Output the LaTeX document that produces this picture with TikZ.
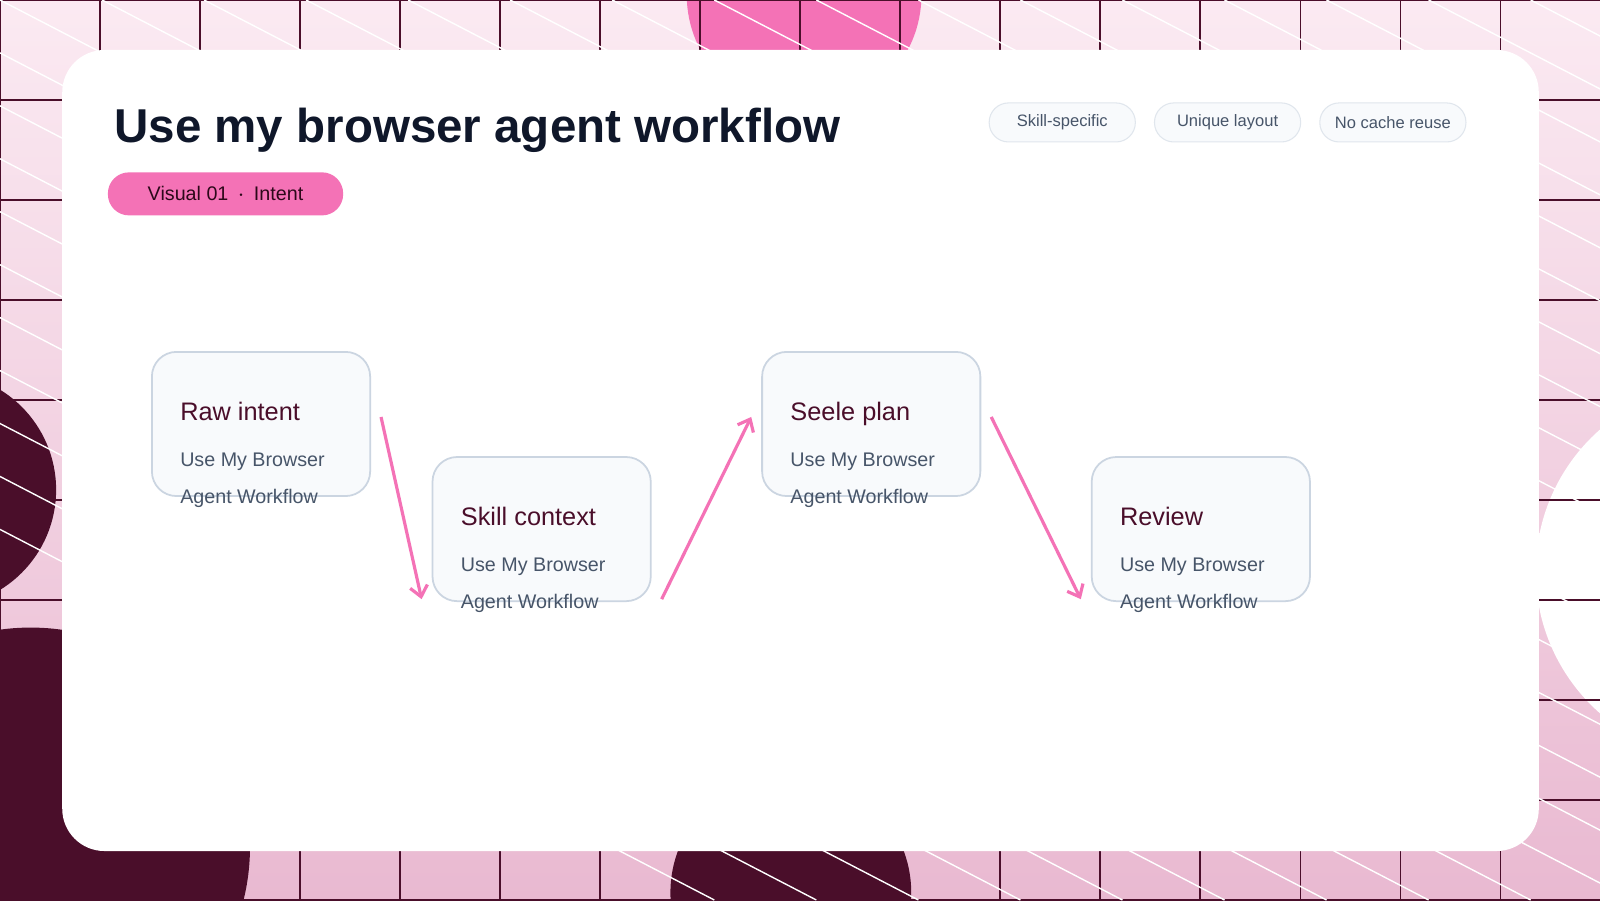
\documentclass[tikz,border=0pt]{standalone}
\usepackage{fontspec}
\setmainfont{Liberation Sans}
\usetikzlibrary{arrows.meta}
\definecolor{inkdark}{HTML}{0F172A}
\definecolor{maroon}{HTML}{4A0E2A}
\definecolor{rosepink}{HTML}{F472B6}
\definecolor{slatetext}{HTML}{475569}
\definecolor{boxfill}{HTML}{F8FAFC}
\definecolor{boxline}{HTML}{CBD5E1}
\definecolor{bgtop}{HTML}{FBEAF2}
\definecolor{bgbot}{HTML}{E9B9D1}
\tikzset{
  stepcard/.style={draw=boxline, line width=0.5pt, fill=boxfill, rounded corners=7pt,
    minimum width=2.18cm, minimum height=1.44cm, anchor=north west},
  tagpill/.style={draw=boxline!60, line width=0.3pt, fill=boxfill, rounded corners=5.5pt,
    minimum width=1.46cm, minimum height=0.39cm, text=slatetext, font=\fontsize{4.7}{5}\selectfont},
  flow/.style={draw=rosepink, line width=0.9pt, -{Straight Barb[length=3pt,width=5pt]}}
}
\newcommand{\cardtext}[2]{%
  \begin{tabular}{@{}l@{}}{\fontsize{7.2}{8}\selectfont\color{maroon}#1}\\[1.2pt]
  {\fontsize{5.6}{6.5}\selectfont\color{slatetext}Use My Browser}\\[-1.5pt]
  {\fontsize{5.6}{6.5}\selectfont\color{slatetext}Agent Workflow}\end{tabular}}

\begin{document}
\begin{tikzpicture}[x=0.0102cm, y=-0.0102cm]
  \useasboundingbox (0,0) rectangle (1568,882);
  % background
  \shade[top color=bgtop, bottom color=bgbot] (0,0) rectangle (1568,882);
  \begin{scope}
    \clip (0,0) rectangle (1568,882);
    \fill[rosepink] (788,-5) circle (115);
    \fill[maroon] (-60,480) circle (115);
    \fill[maroon] (30,830) circle (215);
    \fill[maroon] (775,875) circle (118);
    \fill[white] (1690,560) circle (185);
    \foreach \gx in {0,98,...,1568} \draw[maroon, line width=0.3pt] (\gx,0) -- (\gx,882);
    \foreach \gy in {0,98,...,882} \draw[maroon, line width=0.3pt] (0,\gy) -- (1568,\gy);
    \foreach \d in {-1000,-900,...,1600} \draw[white, line width=0.4pt] (\d,0) -- (\d+1700,882);
  \end{scope}
  % card
  \fill[white, rounded corners=12pt] (61,49) rectangle (1508,834);
  \node[anchor=west, text=inkdark, font=\fontsize{13.5}{15}\selectfont\bfseries] (title) at (100,128) {Use my browser agent workflow};
  \node[fill=rosepink, rounded corners=6pt, minimum width=2.35cm, minimum height=0.43cm,
    font=\fontsize{5.6}{6}\selectfont, text=maroon!60!black] (badge) at (221,190) {Visual 01 \,$\cdot$\, Intent};
  \node[tagpill] (tagA) at (1041,120) {Skill-specific};
  \node[tagpill] (tagB) at (1203,120) {Unique layout};
  \node[tagpill] (tagC) at (1365,120) {No cache reuse};
  % steps
  \node[stepcard] (raw) at (148,344) {};
  \node[stepcard] (skill) at (423,447) {};
  \node[stepcard] (plan) at (746,344) {};
  \node[stepcard] (review) at (1069,447) {};
  \foreach \n/\t in {raw/Raw intent, skill/Skill context, plan/Seele plan, review/Review}
    \node[anchor=north west, inner sep=0pt] at ([xshift=0.285cm, yshift=-0.39cm]\n.north west) {\cardtext{\t}{}};
  % connectors
  \draw[flow] ([xshift=0.1cm, yshift=0.07cm]raw.east) -- ([xshift=-0.1cm, yshift=-0.7cm]skill.west);
  \draw[flow] ([xshift=0.1cm, yshift=-0.7cm]skill.east) -- ([xshift=-0.1cm, yshift=0.07cm]plan.west);
  \draw[flow] ([xshift=0.1cm, yshift=0.07cm]plan.east) -- ([xshift=-0.1cm, yshift=-0.7cm]review.west);
\end{tikzpicture}
\end{document}
